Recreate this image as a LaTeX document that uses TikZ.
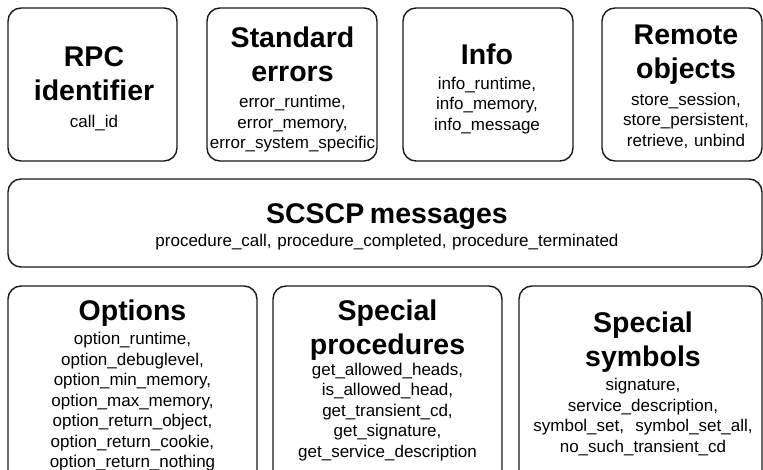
\documentclass[tikz,border=0pt]{standalone}
\usepackage{fontspec}
\setmainfont{Liberation Sans}
\setlength{\parindent}{0pt}
\setlength{\parskip}{0pt}
\lineskiplimit=-100pt
\newcommand{\boxtitle}{\fontsize{28.5}{34}\selectfont\bfseries}
\newcommand{\boxitems}{\fontsize{17}{20.5}\selectfont\mdseries}

\begin{document}
\begin{tikzpicture}[x=1pt,y=-1pt,group box/.style={draw=black!90,line width=1.4pt,rounded corners=13pt,inner sep=0pt},group text/.style={anchor=north,inner sep=0pt,text width=300pt,align=center,font=\boxitems}]
            \useasboundingbox (0,0) rectangle (763,470);
            \clip (0,0) rectangle (763,470);

            % top row
            \node[group box,minimum width=169pt,minimum height=153pt] (rpc) at (92.5,84.5) {};
            \node[group box,minimum width=170pt,minimum height=153pt] (errors) at (292,84.5) {};
            \node[group box,minimum width=170pt,minimum height=153pt] (info) at (488,84.5) {};
            \node[group box,minimum width=160pt,minimum height=153pt] (remote) at (682,84.5) {};

            \node[group text] (rpc text) at (94,46.7) {\boxtitle RPC\par identifier\par\boxitems\vspace{6.1pt}call\_id};
            \node[group text] (errors text) at (292.5,26.7) {\boxtitle Standard\par errors\par\boxitems\vspace{5.8pt}error\_runtime,\par error\_memory,\par error\_system\_specific};
            \node[group text] (info text) at (487,43.3) {\boxtitle Info\par\boxitems\vspace{4.5pt}info\_runtime,\par info\_memory,\par info\_message};
            \node[group text] (remote text) at (686,25) {\boxtitle Remote\par objects\par\boxitems\vspace{6pt}store\_session,\par store\_persistent,\par retrieve, unbind};

            % middle
            \node[group box,minimum width=754pt,minimum height=88pt] (msgs) at (385,223) {};
            \node[group text,text width=720pt] (msgs text) at (387,203.3) {\boxtitle SCSCP messages\par\boxitems\vspace{2.9pt}procedure\_call, procedure\_completed, procedure\_terminated};

            % bottom row
            \node[group box,minimum width=249pt,minimum height=214pt] (options) at (132.5,393) {};
            \node[group box,minimum width=229pt,minimum height=214pt] (procs) at (387.5,393) {};
            \node[group box,minimum width=243pt,minimum height=214pt] (symbols) at (640.5,393) {};

            \node[group text] (options text) at (132.5,300) {\boxtitle Options\par\boxitems\vspace{3.5pt}option\_runtime,\par option\_debuglevel,\par option\_min\_memory,\par option\_max\_memory,\par option\_return\_object,\par option\_return\_cookie,\par option\_return\_nothing};
            \node[group text] (procs text) at (387.5,300) {\boxtitle Special\par procedures\par\boxitems get\_allowed\_heads,\par is\_allowed\_head,\par get\_transient\_cd,\par get\_signature,\par get\_service\_description};
            \node[group text] (symbols text) at (643,311.7) {\boxtitle Special\par symbols\par\boxitems\vspace{3.5pt}signature,\par service\_description,\par symbol\_set,\ \ symbol\_set\_all,\par no\_such\_transient\_cd};
        \end{tikzpicture}
\end{document}
